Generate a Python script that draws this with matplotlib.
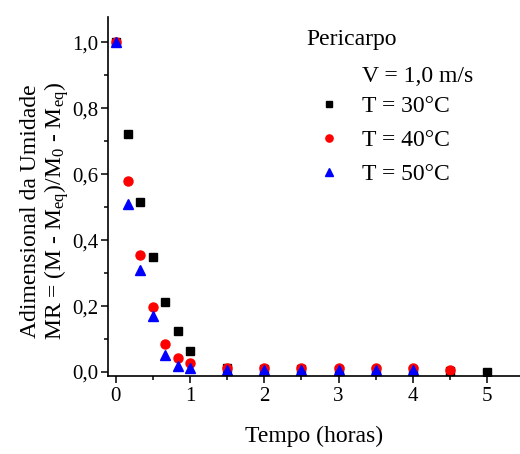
import matplotlib
matplotlib.use("Agg")
import matplotlib.pyplot as plt
from matplotlib.ticker import MultipleLocator, FuncFormatter

plt.rcParams['font.family'] = ['Liberation Serif', 'DejaVu Serif']
plt.rcParams['mathtext.fontset'] = 'custom'
plt.rcParams['mathtext.rm'] = 'Liberation Serif'
plt.rcParams['mathtext.it'] = 'Liberation Serif:italic'

# Data
t30 = [0, 1/6, 2/6, 0.5, 2/3, 5/6, 1, 1.5, 2, 2.5, 3, 3.5, 4, 4.5, 5]
mr30 = [1.0, 0.72, 0.515, 0.35, 0.212, 0.124, 0.064, 0.011, 0.009, 0.008,
        0.007, 0.006, 0.005, 0.003, 0.0]
t40 = [0, 1/6, 2/6, 0.5, 2/3, 5/6, 1, 1.5, 2, 2.5, 3, 3.5, 4, 4.5]
mr40 = [1.0, 0.579, 0.355, 0.197, 0.085, 0.042, 0.027, 0.013, 0.012, 0.012,
        0.012, 0.012, 0.011, 0.007]
t50 = [0, 1/6, 2/6, 0.5, 2/3, 5/6, 1, 1.5, 2, 2.5, 3, 3.5, 4]
mr50 = [1.0, 0.51, 0.31, 0.17, 0.052, 0.018, 0.012, 0.006, 0.006, 0.006,
        0.006, 0.006, 0.005]
labels = ["T = 30°C", "T = 40°C", "T = 50°C"]

fig = plt.figure(figsize=(5.2, 4.54), dpi=100)
ax = fig.add_axes([108/520, 78/454, 412/520, 359/454])

h1, = ax.plot(t30, mr30, ls='none', marker='s', ms=6, color='black', mec='black', label=labels[0])
h2, = ax.plot(t40, mr40, ls='none', marker='o', ms=6.5, color='#ff0000', mec='#ff0000', label=labels[1])
h3, = ax.plot(t50, mr50, ls='none', marker='^', ms=7.5, color='#0000ff', mec='#0000ff', label=labels[2])

ax.set_xlim(-0.104, 5.444)
ax.set_ylim(-0.012, 1.076)

for s in ['top', 'right']:
    ax.spines[s].set_visible(False)
for s in ['left', 'bottom']:
    ax.spines[s].set_linewidth(1.2)

ax.xaxis.set_major_locator(MultipleLocator(1))
ax.xaxis.set_minor_locator(MultipleLocator(0.5))
ax.yaxis.set_major_locator(MultipleLocator(0.2))
ax.yaxis.set_minor_locator(MultipleLocator(0.1))
ax.yaxis.set_major_formatter(FuncFormatter(lambda v, p: f"{v:.1f}".replace('.', ',')))
ax.tick_params(which='major', direction='out', length=5, width=1.1, labelsize=15)
ax.tick_params(which='minor', direction='out', length=3, width=1.1)
ax.tick_params(axis='x', pad=3)
ax.tick_params(axis='y', pad=2)

ax.set_xlabel("Tempo (horas)", fontsize=17, labelpad=14)
ax.set_ylabel("Adimensional da Umidade\n"
              r"MR = (M - M$_{\mathrm{eq}}$)/M$_0$ - M$_{\mathrm{eq}}$)",
              fontsize=17, linespacing=1.05)
ax.yaxis.set_label_coords(-0.09, 0.46)

ax.text(0.481, 0.922, "Pericarpo", transform=ax.transAxes, fontsize=17,
        ha='left', va='baseline')
ax.text(0.617, 0.819, "V = 1,0 m/s", transform=ax.transAxes, fontsize=17,
        ha='left', va='baseline')

leg = ax.legend(handles=[h1, h2, h3], loc='upper left', bbox_to_anchor=(0.461, 0.827),
                frameon=False, fontsize=17, markerscale=0.8, handlelength=1.2,
                handletextpad=0.8, labelspacing=0.52, borderpad=0.2)

fig.savefig("out.png", dpi=100)
